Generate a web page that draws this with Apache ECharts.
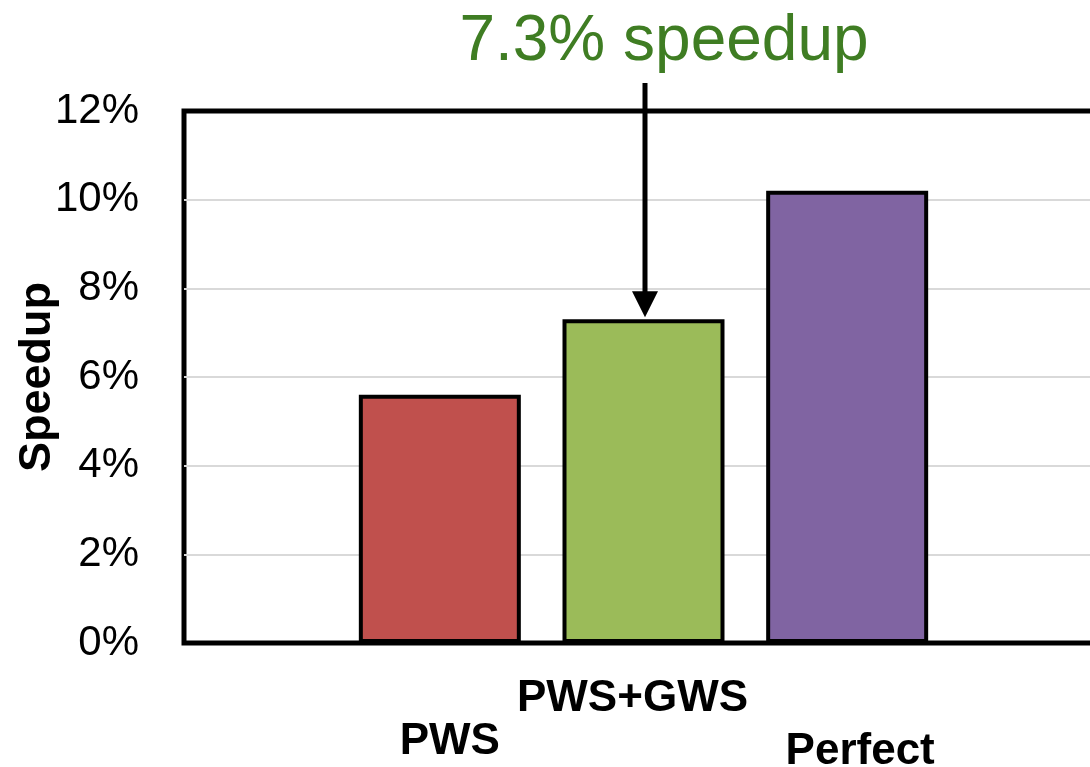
<!DOCTYPE html>
<html>
<head>
<meta charset="utf-8">
<script src="https://cdn.jsdelivr.net/npm/echarts@6/dist/echarts.min.js"></script>
<style>
  html, body { margin: 0; padding: 0; background: #fff; }
  #chart { width: 1090px; height: 767px; }
</style>
</head>
<body>
<div id="chart"></div>
<script>
// Speedup of each scheme, in percent
const categories = ['PWS', 'PWS+GWS', 'Perfect'];
const speedups = [5.6, 7.3, 10.2];
const barColors = ['#c0504d', '#9bbb59', '#8064a2'];
const yMin = 0, yMax = 12, yStep = 2;
const highlighted = 'PWS+GWS';

const FONT = '"Liberation Sans", Arial, sans-serif';

// plot frame geometry (shared by the frame grid and the bar grid)
const plotTop = 111, plotHeight = 532;

// staggered category labels: the text sits centred in each line box
const labelRich = {
  r0: { fontFamily: FONT, fontSize: 44, fontWeight: 'bold', color: '#000', lineHeight: 198, padding: [0, 0, 0, 20] },
  r1: { fontFamily: FONT, fontSize: 44, fontWeight: 'bold', color: '#000', lineHeight: 112, padding: [0, 22, 0, 0] },
  r2: { fontFamily: FONT, fontSize: 44, fontWeight: 'bold', color: '#000', lineHeight: 218, padding: [0, 0, 0, 26] }
};

const chart = echarts.init(document.getElementById('chart'), null, { renderer: 'canvas' });

chart.setOption({
  animation: false,
  backgroundColor: '#fff',
  grid: [
    { left: 184, top: plotTop, height: plotHeight, width: 1300, show: true,
      outerBoundsMode: 'none', containLabel: false,
      borderColor: '#000', borderWidth: 5, backgroundColor: 'transparent' },
    { left: 338, top: plotTop, height: plotHeight, width: 611,
      outerBoundsMode: 'none', containLabel: false }
  ],
  xAxis: [
    { gridIndex: 0, type: 'category', data: categories, show: false },
    { gridIndex: 1, type: 'category', data: categories,
      axisLine: { show: false }, axisTick: { show: false },
      axisLabel: { interval: 0, margin: 0, hideOverlap: false,
        formatter: (v, i) => `{r${i}|${v}}`, rich: labelRich } }
  ],
  yAxis: [
    { gridIndex: 0, type: 'value', min: yMin, max: yMax, interval: yStep,
      axisLine: { show: false }, axisTick: { show: false },
      axisLabel: { formatter: '{value}%', fontFamily: FONT, fontSize: 42, color: '#000', margin: 45 },
      splitLine: { show: true, showMinLine: false, showMaxLine: false,
        lineStyle: { color: '#d9d9d9', width: 2 } },
      name: 'Speedup', nameLocation: 'middle', nameGap: 124, nameMoveOverlap: false,
      nameTextStyle: { fontFamily: FONT, fontSize: 45, fontWeight: 'bold', color: '#000' } },
    { gridIndex: 1, type: 'value', min: yMin, max: yMax, show: false, splitLine: { show: false } }
  ],
  series: [{
    type: 'bar',
    xAxisIndex: 1, yAxisIndex: 1,
    barWidth: 162,
    itemStyle: { borderColor: '#000', borderWidth: 4 },
    data: speedups.map((v, i) => ({ value: v, itemStyle: { color: barColors[i] } }))
  }]
});

// annotation arrow pointing at the highlighted bar
const hi = categories.indexOf(highlighted);
const tip = chart.convertToPixel({ xAxisIndex: 1, yAxisIndex: 1 }, [highlighted, speedups[hi]]);
const ax = tip[0] + 1.5, tipY = tip[1] - 2, headH = 26, headW = 26;
chart.setOption({
  graphic: [
    { type: 'line', z: 10,
      shape: { x1: ax, y1: plotTop - 28, x2: ax, y2: tipY - headH + 2 },
      style: { stroke: '#000', lineWidth: 5 } },
    { type: 'polygon', z: 10,
      shape: { points: [[ax - headW / 2, tipY - headH], [ax + headW / 2, tipY - headH], [ax, tipY]] },
      style: { fill: '#000' } },
    { type: 'text', z: 10, x: ax + 19, y: 42,
      style: { text: `${speedups[hi].toFixed(1)}% speedup`, fill: '#3f7d23',
        font: `64px ${FONT}`, align: 'center', verticalAlign: 'middle' } }
  ]
});
</script>
</body>
</html>
